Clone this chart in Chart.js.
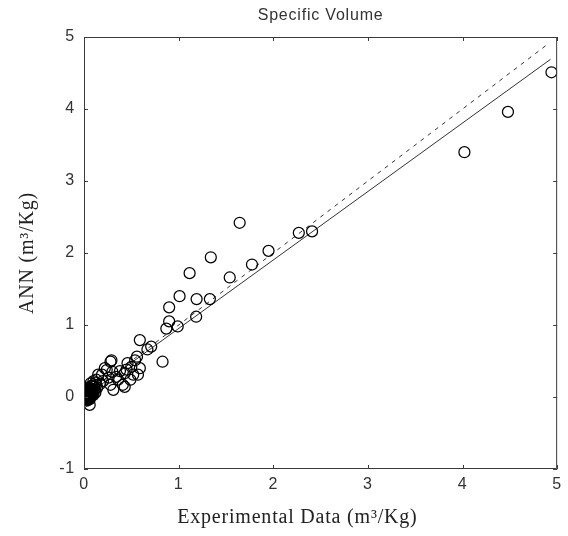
<!DOCTYPE html>
<html>
<head>
<meta charset="utf-8">
<script src="https://cdn.jsdelivr.net/npm/chart.js@4.4.1/dist/chart.umd.min.js"></script>
<style>
  html, body { margin: 0; padding: 0; background: #fff; }
  #wrap { width: 568px; height: 536px; }
</style>
</head>
<body>
<div id="wrap"><canvas id="svChart" width="568" height="536"></canvas></div>
<script>
// ── Data ─────────────────────────────────────────────────────────────────────

// experimental specific volume vs ANN prediction (m3/Kg)
const expData = [
    4.94, 4.48, 4.02, 2.41, 2.27, 1.95, 1.775, 1.645, 1.54, 1.34,
    1.33, 1.19, 1.185, 1.116, 1.01, 0.99, 0.90, 0.90, 0.87, 0.83,
    0.71, 0.67, 0.59, 0.56, 0.54, 0.50, 0.59, 0.57, 0.46, 0.29,
    0.28, 0.49, 0.43, 0.36, 0.28, 0.31, 0.22, 0.15, 0.07, 0.06,
    0.52, 0.43, 0.34, 0.24, 0.19, 0.13, 0.41, 0.38, 0.45, 0.30,
    0.26, 0.20, 0.17, 0.00, 0.01, 0.02, 0.02, 0.03, 0.04, 0.05,
    0.06, 0.07, 0.08, 0.10, 0.11, 0.01, 0.00, 0.03, 0.09, 0.12,
    0.05, 0.08, 0.04, 0.14, 0.10, 0.02, 0.03, 0.01, 0.04, 0.06,
    0.05, 0.07, 0.09, 0.03, 0.00, 0.06, 0.11, 0.13, 0.08, 0.01,
    0.02, 0.04, 0.05, 0.07, 0.00, 0.03, 0.06, 0.08, 0.10, 0.02,
    0.04, 0.12, 0.09, 0.05
];
const annData = [
    4.51, 3.96, 3.40, 2.30, 2.28, 2.03, 1.84, 2.42, 1.66, 1.94,
    1.36, 1.36, 1.115, 1.72, 1.40, 0.98, 1.245, 1.05, 0.95, 0.49,
    0.70, 0.66, 0.79, 0.56, 0.51, 0.42, 0.40, 0.31, 0.47, 0.51,
    0.49, 0.24, 0.14, 0.24, 0.17, 0.10, 0.40, 0.31, 0.19, -0.11,
    0.31, 0.33, 0.28, 0.375, 0.31, 0.24, 0.17, 0.36, 0.38, 0.35,
    0.27, 0.22, 0.18, 0.00, 0.03, -0.02, 0.06, 0.01, 0.09, 0.03,
    0.12, 0.05, 0.10, 0.07, 0.14, 0.08, 0.05, 0.13, 0.16, 0.20,
    0.00, 0.03, -0.04, 0.13, 0.22, 0.02, 0.04, -0.01, 0.05, 0.07,
    0.10, 0.09, 0.11, -0.05, 0.02, 0.02, 0.10, 0.17, 0.15, -0.03,
    0.00, 0.01, -0.02, 0.00, -0.01, 0.07, -0.03, 0.05, 0.03, 0.09,
    0.12, 0.06, 0.04, 0.06
];

// regression fit (solid) and ideal y = x (dashed)
const fitX   = [0, 4.93];
const fitY   = [0, 4.69];
const idealX = [0, 4.92];
const idealY = [0, 4.92];

const xTicks = [0, 1, 2, 3, 4, 5];
const yTicks = [-1, 0, 1, 2, 3, 4, 5];

const toPoints = (xs, ys) => xs.map((x, i) => ({ x, y: ys[i] }));

// ── Plugins ──────────────────────────────────────────────────────────────────

// the old bitmap fonts of the original are spaced wide
const wideText = {
    id: 'wideText',
    beforeInit(chart)   { chart.ctx.letterSpacing = '0.8px'; },
    beforeLayout(chart) { chart.ctx.letterSpacing = '0.8px'; },
    beforeDraw(chart)   { chart.ctx.letterSpacing = '0.8px'; }
};

// MATLAB style frame: box plus inward ticks on all sides
const frameTicks = {
    id: 'frameTicks',
    afterDatasetsDraw(chart) {
        const { ctx, chartArea: a, scales } = chart;
        const len = 4;
        ctx.save();
        ctx.strokeStyle = '#3c3c3c';
        ctx.lineWidth = 1;
        ctx.beginPath();
        ctx.rect(a.left + 0.5, a.top + 0.5, a.right - a.left - 1, a.bottom - a.top - 1);
        xTicks.forEach(v => {
            const px = Math.round(scales.x.getPixelForValue(v)) + 0.5;
            ctx.moveTo(px, a.bottom); ctx.lineTo(px, a.bottom - len);
            ctx.moveTo(px, a.top);    ctx.lineTo(px, a.top + len);
        });
        yTicks.forEach(v => {
            const py = Math.round(scales.y.getPixelForValue(v)) + 0.5;
            ctx.moveTo(a.left, py);  ctx.lineTo(a.left + len, py);
            ctx.moveTo(a.right, py); ctx.lineTo(a.right - len, py);
        });
        ctx.stroke();
        ctx.restore();
    }
};

// ── Chart ────────────────────────────────────────────────────────────────────

const tickFont  = { family: '"Liberation Sans", Arial, sans-serif', size: 16 };
const titleFont = { family: '"Liberation Serif", "Times New Roman", serif', size: 20 };

// the x label sits left of centre in the original; trailing spaces push it over
const xLabel = 'Experimental Data (m³/Kg)' + '\u00a0'.repeat(8);

const ctx = document.getElementById('svChart').getContext('2d');
new Chart(ctx, {
    type: 'scatter',
    data: {
        datasets: [
            {
                label: 'Data',
                data: toPoints(expData, annData),
                pointRadius: 5.5,
                pointBorderWidth: 1.25,
                pointBorderColor: '#000',
                pointBackgroundColor: 'rgba(0,0,0,0)',
                showLine: false,
            },
            {
                label: 'Fit',
                type: 'line',
                data: toPoints(fitX, fitY),
                borderColor: '#333',
                borderWidth: 1,
                pointRadius: 0,
                fill: false,
            },
            {
                label: 'Ideal',
                type: 'line',
                data: toPoints(idealX, idealY),
                borderColor: '#333',
                borderWidth: 1,
                borderDash: [4, 5],
                pointRadius: 0,
                fill: false,
            }
        ]
    },
    options: {
        responsive: false,
        animation: false,
        layout: { padding: { left: 0, right: 9, top: 0, bottom: 0 } },
        plugins: {
            legend: { display: false },
            tooltip: { enabled: false },
            title: {
                display: true,
                fullSize: false,
                text: 'Specific Volume',
                color: '#333',
                font: { family: '"Liberation Sans", Arial, sans-serif', size: 16, weight: 'normal' },
                padding: { top: 6, bottom: 11.8 }
            }
        },
        scales: {
            x: {
                type: 'linear',
                min: 0, max: 5,
                afterBuildTicks: s => { s.ticks = xTicks.map(v => ({ value: v })); },
                afterFit: s => { s.height = 67; },
                grid: { display: false, drawTicks: false },
                border: { display: false },
                ticks: { color: '#333', font: tickFont, padding: 6, maxRotation: 0 },
                title: { display: true, text: xLabel, color: '#222', font: titleFont, padding: { top: 6, bottom: 6 } }
            },
            y: {
                type: 'linear',
                min: -1, max: 5,
                afterBuildTicks: s => { s.ticks = yTicks.map(v => ({ value: v })); },
                afterFit: s => { s.width = 84; },
                grid: { display: false, drawTicks: false },
                border: { display: false },
                ticks: { color: '#333', font: tickFont, padding: 9 },
                title: { display: true, text: 'ANN (m³/Kg)', color: '#222', font: titleFont, padding: { top: 16, bottom: 4 } }
            }
        }
    },
    plugins: [wideText, frameTicks]
});
</script>
</body>
</html>
